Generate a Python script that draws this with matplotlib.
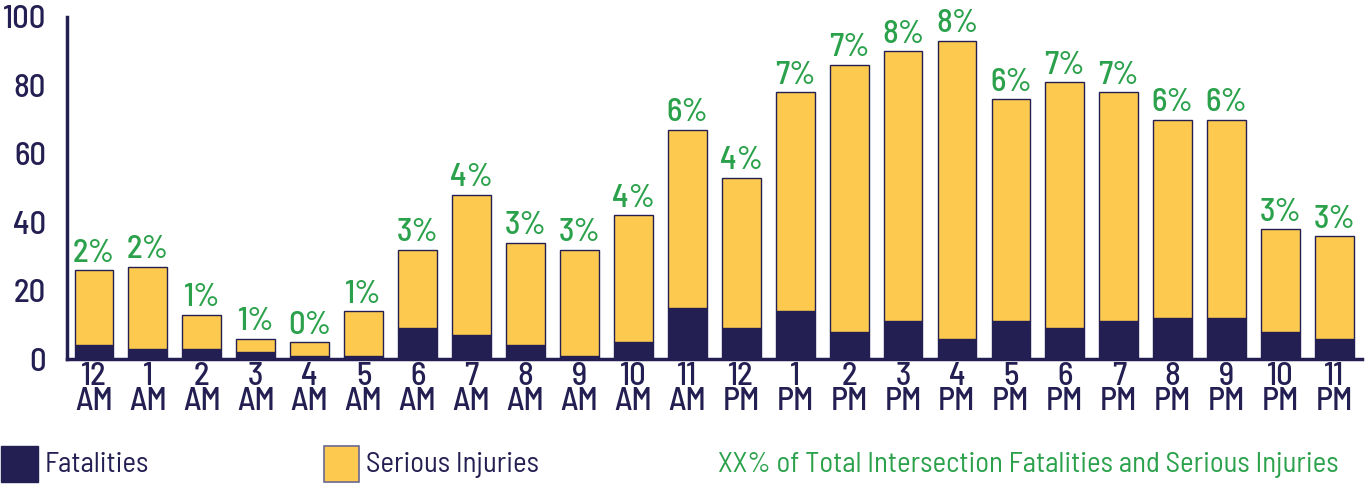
import numpy as np
import matplotlib
matplotlib.use('Agg')
import matplotlib.pyplot as plt
from matplotlib.patches import Rectangle

hours = ['12\nAM', '1\nAM', '2\nAM', '3\nAM', '4\nAM', '5\nAM', '6\nAM', '7\nAM', '8\nAM', '9\nAM',
         '10\nAM', '11\nAM', '12\nPM', '1\nPM', '2\nPM', '3\nPM', '4\nPM', '5\nPM', '6\nPM', '7\nPM',
         '8\nPM', '9\nPM', '10\nPM', '11\nPM']
fatalities = [4, 3, 3, 2, 1, 1, 9, 7, 4, 1, 5, 15, 9, 14, 8, 11, 6, 11, 9, 11, 12, 12, 8, 6]
totals = [26, 27, 13, 6, 5, 14, 32, 48, 34, 32, 42, 67, 53, 78, 86, 90, 93, 76, 81, 78, 70, 70, 38, 36]
pct = [2, 2, 1, 1, 0, 1, 3, 4, 3, 3, 4, 6, 4, 7, 7, 8, 8, 6, 7, 7, 6, 6, 3, 3]
serious = [t - f for t, f in zip(totals, fatalities)]

navy = '#241f52'
yellow = '#fdca4f'
green = '#2ba14b'

plt.rcParams['font.family'] = ['Barlow Semi Condensed', 'DejaVu Sans']

fig = plt.figure(figsize=(13.67, 4.84), dpi=100)
ax = fig.add_axes([0.049, 0.258, 0.947, 0.707])

x = np.arange(len(hours))
ax.bar(x, fatalities, width=0.72, color=navy, edgecolor=navy, linewidth=1)
ax.bar(x, serious, bottom=fatalities, width=0.72, color=yellow, edgecolor=navy, linewidth=1)

for xi, t, p in zip(x, totals, pct):
    ax.text(xi, t + 0.7, f'{p}%', ha='center', va='bottom', color=green, fontsize=23.5,
            fontweight='medium')

ax.set_xlim(-0.5, 23.5)
ax.set_ylim(0, 100)
ax.set_yticks([0, 20, 40, 60, 80, 100])
ax.set_xticks(x)
ax.set_xticklabels(hours, fontsize=23.5, color=navy, linespacing=0.82, fontweight='medium')
ax.set_yticklabels(['0', '20', '40', '60', '80', '100'], fontsize=23.5, color=navy,
                   fontweight='medium')
ax.tick_params(axis='y', length=0, pad=15)
ax.tick_params(axis='x', length=0, pad=2)
for s in ['top', 'right']:
    ax.spines[s].set_visible(False)
for s in ['left', 'bottom']:
    ax.spines[s].set_color(navy)
    ax.spines[s].set_linewidth(2.5)

# legend
W, H = 1367, 484
fig.add_artist(Rectangle((1 / W, 2 / H), 37 / W, 36 / H, transform=fig.transFigure,
                         facecolor=navy, edgecolor=navy))
fig.text(45 / W, 19 / H, 'Fatalities', color=navy, fontsize=20.7, va='center')
fig.add_artist(Rectangle((324 / W, 2 / H), 35 / W, 36 / H, transform=fig.transFigure,
                         facecolor=yellow, edgecolor='#6b6790', linewidth=1.2))
fig.text(366 / W, 19 / H, 'Serious Injuries', color=navy, fontsize=20.7, va='center')
fig.text(718 / W, 19 / H, 'XX% of Total Intersection Fatalities and Serious Injuries',
         color=green, fontsize=20.7, va='center')

fig.savefig('out.png', dpi=100)
